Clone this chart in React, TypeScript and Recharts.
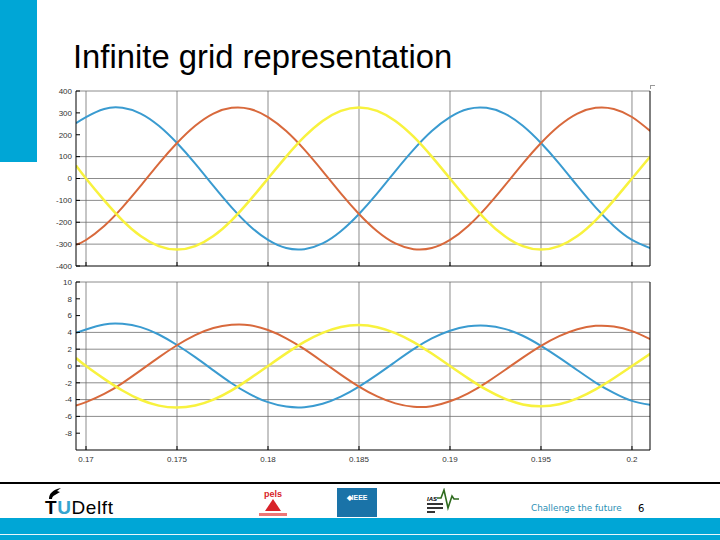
import { CartesianGrid, Line, LineChart, XAxis, YAxis } from "recharts"

// sample times, first one sits on the left edge of the plot
const times = [
  0.16945, 0.17, 0.171, 0.172, 0.173, 0.174, 0.175, 0.176, 0.177, 0.178, 0.179, 0.18, 0.181, 0.182, 0.183, 0.184, 0.185,
  0.186, 0.187, 0.188, 0.189, 0.19, 0.191, 0.192, 0.193, 0.194, 0.195, 0.196, 0.197, 0.198, 0.199, 0.2, 0.201,
]

const voltageBlue = [
  253, 281, 318, 323, 297, 241, 162, 68, -34, -132, -217, -281, -318, -323, -297, -241, -162, -68, 34, 132, 217, 281,
  318, 323, 297, 241, 162, 68, -34, -132, -217, -281, -318,
]
const voltageOrange = [
  -303, -281, -217, -132, -34, 68, 162, 241, 297, 323, 318, 281, 217, 132, 34, -68, -162, -241, -297, -323, -318, -281,
  -217, -132, -34, 68, 162, 241, 297, 323, 318, 281, 217,
]
const voltageYellow = [
  60, 0, -100, -191, -263, -309, -325, -309, -263, -191, -100, 0, 100, 191, 263, 309, 325, 309, 263, 191, 100, 0, -100,
  -191, -263, -309, -325, -309, -263, -191, -100, 0, 100,
]

const currentBlue = [
  3.95, 4.35, 4.95, 5.02, 4.63, 3.75, 2.5, 1.05, -0.52, -2.05, -3.35, -4.3, -4.83, -4.9, -4.5, -3.65, -2.45, -1.03, 0.5,
  2.0, 3.28, 4.2, 4.72, 4.8, 4.42, 3.6, 2.4, 1.0, -0.5, -1.97, -3.2, -4.15, -4.62,
]
const currentOrange = [
  -4.7, -4.3, -3.33, -2.03, -0.52, 1.03, 2.47, 3.68, 4.52, 4.9, 4.85, 4.28, 3.3, 2.0, 0.5, -1.02, -2.45, -3.62, -4.45,
  -4.85, -4.78, -4.2, -3.25, -1.97, -0.5, 1.0, 2.4, 3.55, 4.38, 4.78, 4.7, 4.15, 3.2,
]
const currentYellow = [
  0.95, 0, -1.53, -2.92, -4.02, -4.72, -4.95, -4.7, -4.0, -2.9, -1.5, 0, 1.5, 2.88, 3.95, 4.65, 4.88, 4.62, 3.92, 2.85,
  1.48, 0, -1.47, -2.82, -3.88, -4.58, -4.8, -4.55, -3.85, -2.78, -1.45, 0, 1.45,
]

const timeTicks = [0.17, 0.175, 0.18, 0.185, 0.19, 0.195, 0.2]
const voltageTicks = [400, 300, 200, 100, 0, -100, -200, -300, -400]
const voltageGrid = [400, 100, 0, -100, -200, -300]
const currentTicks = [10, 8, 6, 4, 2, 0, -2, -4, -6, -8]
const currentGrid = [10, 4, 2, 0, -2, -4, -6]

const voltageData = times.map((t, i) => ({ t, blue: voltageBlue[i], orange: voltageOrange[i], yellow: voltageYellow[i] }))
const currentData = times.map((t, i) => ({ t, blue: currentBlue[i], orange: currentOrange[i], yellow: currentYellow[i] }))

const BLUE = "#3a9bd0"
const ORANGE = "#d8693c"
const YELLOW = "#f8f23e"
const GRID = "#6f6f6f"
const tickStyle = { fontSize: 8, fill: "#333", fontFamily: "Liberation Sans" }

type PanelProps = {
  data: typeof voltageData
  top: number
  height: number
  domain: number[]
  ticks: number[]
  grid: number[]
  showTimeLabels: boolean
  bottomGap: number
}

function Panel({ data, top, height, domain, ticks, grid, showTimeLabels, bottomGap }: PanelProps) {
  return (
    <div style={{ position: "absolute", left: 0, top }}>
      <LineChart width={720} height={height} data={data} margin={{ top: 6, right: 0, bottom: 0, left: 0 }}>
        <CartesianGrid stroke={GRID} strokeWidth={0.8} horizontalValues={grid} verticalValues={timeTicks} />
        <XAxis
          dataKey="t"
          type="number"
          domain={[0.16945, 0.20099]}
          allowDataOverflow
          ticks={timeTicks}
          tickFormatter={(v) => (showTimeLabels ? String(v) : "")}
          tick={tickStyle}
          stroke="#000"
          tickSize={-4}
          tickMargin={10}
          height={bottomGap}
          interval={0}
        />
        <YAxis
          domain={[domain[0], domain[1]]}
          ticks={ticks}
          allowDataOverflow
          tick={tickStyle}
          stroke="#000"
          width={76}
          tickSize={-4}
          tickMargin={8}
          interval={0}
        />
        <YAxis
          yAxisId="right"
          orientation="right"
          domain={[domain[0], domain[1]]}
          ticks={grid}
          tickFormatter={() => ""}
          stroke="#000"
          width={70}
          tickSize={-4}
          tickMargin={8}
          interval={0}
        />
        <Line dataKey="blue" type="natural" stroke={BLUE} strokeWidth={2} dot={false} isAnimationActive={false} />
        <Line dataKey="orange" type="natural" stroke={ORANGE} strokeWidth={2} dot={false} isAnimationActive={false} />
        <Line dataKey="yellow" type="natural" stroke={YELLOW} strokeWidth={2.5} dot={false} isAnimationActive={false} />
      </LineChart>
    </div>
  )
}

function Footer() {
  return (
    <>
      <div style={{ position: "absolute", left: 0, top: 482, width: 720, height: 2, background: "#000" }} />
      <div style={{ position: "absolute", left: 0, top: 518, width: 720, height: 22, background: "#00a6d6" }} />
      <div style={{ position: "absolute", left: 0, top: 534, width: 720, height: 1, background: "#e8f6fb" }} />

      <svg style={{ position: "absolute", left: 47, top: 487 }} width={16} height={13}>
        <path d="M2 12 C2 7 5 3 14 1 L10 4 L13 5 L8 8 C6 9 5 10 5 12 Z" fill="#000" />
      </svg>
      <div
        style={{
          position: "absolute",
          left: 45,
          top: 497,
          fontFamily: "Liberation Sans",
          fontSize: 19,
          lineHeight: "22px",
          letterSpacing: 0.6,
          whiteSpace: "nowrap",
        }}
      >
        <span style={{ fontWeight: 700 }}>T</span>
        <span style={{ fontWeight: 700, color: "#35a5cf" }}>U</span>
        <span>Delft</span>
      </div>

      <div
        style={{
          position: "absolute",
          left: 256,
          top: 490,
          width: 34,
          textAlign: "center",
          color: "#d8232a",
          fontFamily: "Liberation Sans",
          fontWeight: 700,
          fontSize: 9,
          lineHeight: "9px",
        }}
      >
        pels
      </div>
      <svg style={{ position: "absolute", left: 258, top: 498 }} width={30} height={20}>
        <path d="M15 1 L23 13 L7 13 Z" fill="#d8232a" />
        <rect x={1} y={15} width={28} height={3} fill="#e77" />
      </svg>

      <div
        style={{
          position: "absolute",
          left: 337,
          top: 488,
          width: 40,
          height: 29,
          background: "#1a73a8",
          color: "#fff",
          fontFamily: "Liberation Sans",
          fontWeight: 700,
          fontSize: 7,
          lineHeight: "9px",
          textAlign: "center",
          paddingTop: 5,
          boxSizing: "border-box",
        }}
      >
        ◆IEEE
      </div>

      <div
        style={{
          position: "absolute",
          left: 427,
          top: 496,
          fontFamily: "Liberation Sans",
          fontWeight: 700,
          fontStyle: "italic",
          fontSize: 6,
          lineHeight: "7px",
        }}
      >
        IAS
      </div>
      <svg style={{ position: "absolute", left: 427, top: 488 }} width={34} height={28}>
        <path d="M10 10 L14 10 L17 2 L21 20 L25 8 L27 11 L32 11" fill="none" stroke="#2f6b1f" strokeWidth={1.6} />
        <rect x={0} y={15} width={16} height={2} fill="#333" />
        <rect x={0} y={19} width={16} height={2} fill="#333" />
        <rect x={0} y={23} width={8} height={2} fill="#333" />
      </svg>

      <div
        style={{
          position: "absolute",
          left: 531,
          top: 502,
          fontFamily: "DejaVu Sans",
          fontSize: 8.8,
          lineHeight: "13px",
          color: "#2a8fb5",
          whiteSpace: "nowrap",
        }}
      >
        Challenge the future
      </div>
      <div
        style={{
          position: "absolute",
          left: 638,
          top: 502,
          fontFamily: "DejaVu Sans",
          fontSize: 10,
          lineHeight: "13px",
          color: "#000",
        }}
      >
        6
      </div>
    </>
  )
}

export default function App() {
  return (
    <div style={{ position: "absolute", left: 0, top: 0, width: 720, height: 540, background: "#fff", overflow: "hidden" }}>
      <div style={{ position: "absolute", left: 0, top: 0, width: 37, height: 162, background: "#00a6d6" }} />
      <div
        style={{
          position: "absolute",
          left: 73,
          top: 38,
          fontFamily: "Liberation Sans",
          fontSize: 32.8,
          lineHeight: "37px",
          color: "#000",
          whiteSpace: "nowrap",
        }}
      >
        Infinite grid representation
      </div>
      <div style={{ position: "absolute", left: 650, top: 85, width: 4, height: 3, borderTop: "1px solid #999", borderLeft: "1px solid #999" }} />
      <Panel
        data={voltageData}
        top={85}
        height={187}
        domain={[-400, 400]}
        ticks={voltageTicks}
        grid={voltageGrid}
        showTimeLabels={false}
        bottomGap={6}
      />
      <Panel
        data={currentData}
        top={276}
        height={192}
        domain={[-10, 10]}
        ticks={currentTicks}
        grid={currentGrid}
        showTimeLabels
        bottomGap={18}
      />
      <Footer />
    </div>
  )
}
